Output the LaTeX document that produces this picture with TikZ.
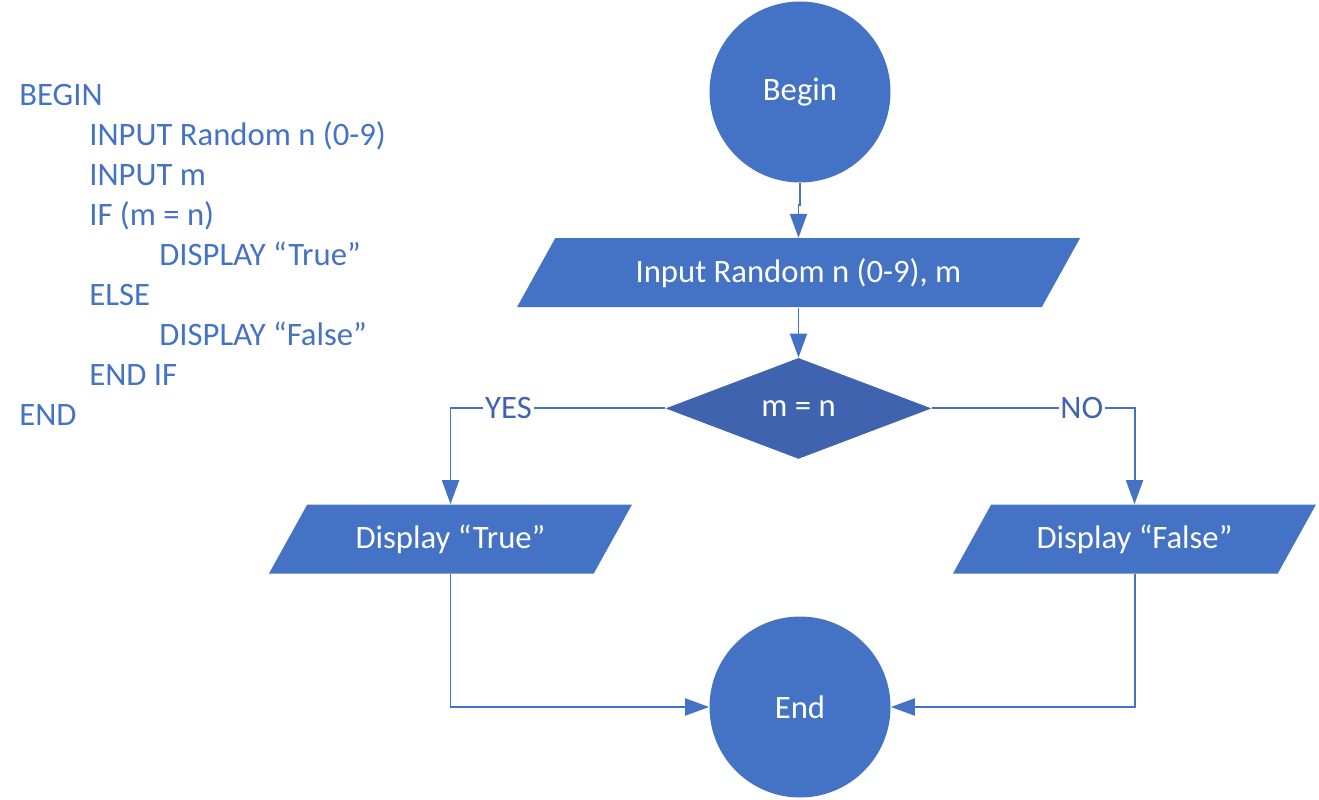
\documentclass[tikz,border=0pt]{standalone}
\usepackage{fontspec}
\setmainfont{Carlito}
\usepackage{xcolor}
\usepackage{tikz}
\usetikzlibrary{arrows.meta,positioning,shapes.geometric,calc}
\definecolor{flowblue}{RGB}{68,114,196}
\definecolor{flowdark}{RGB}{63,99,174}
\newcommand{\flowfont}{\fontsize{18.6pt}{22.7pt}\selectfont}
\tikzset{
  startstop/.style={
    circle,
    fill=flowblue,
    minimum size=3.62cm,
    inner sep=0pt,
    text=white,
    font=\flowfont
  },
  iobox/.style={
    trapezium,
    trapezium left angle=61,
    trapezium right angle=119,
    trapezium stretches body,
    fill=flowblue,
    text height=0.43cm,
    text depth=0.05cm,
    inner ysep=0.45cm,
    inner xsep=0pt,
    text=white,
    font=\flowfont
  },
  decision/.style={
    diamond,
    aspect=2.63,
    fill=flowdark,
    minimum width=5.32cm,
    minimum height=2.02cm,
    inner sep=0pt,
    text=white,
    font=\flowfont
  },
  codeline/.style={
    anchor=base west,
    inner sep=0pt,
    text=flowblue,
    font=\flowfont
  },
  answer/.style={
    fill=white,
    inner sep=1pt,
    text=flowdark,
    font=\flowfont
  },
  flow/.style={-{Triangle[length=0.48cm,width=0.34cm]}, line width=1.1pt, flowblue}
}

\begin{document}
\begin{tikzpicture}
\useasboundingbox (0,0) rectangle (26.38,-16);

% pseudocode
\foreach \ind/\txt [count=\i] in {0/BEGIN, 1/INPUT Random n (0-9), 1/INPUT m,
    1/IF (m = n), 2/DISPLAY “True”, 1/ELSE, 2/DISPLAY “False”, 1/END IF, 0/END}
  \node[codeline] (code\i) at ({0.38+1.4*\ind}, {-2.11-0.8*(\i-1)}) {\txt};

% flowchart
\node[startstop] (begin) at (16,-1.84) {Begin};
\node[iobox, minimum width=11.26cm, below=1.1cm of begin.south, anchor=north, xshift=-0.03cm] (input) {Input Random n (0-9), m};
\node[decision, below=1.0cm of input.south, anchor=north] (check) {m = n};
\node[iobox, minimum width=7.26cm] (ptrue) at (9.01,-10.78) {Display “True”};
\node[iobox, minimum width=7.26cm] (pfalse) at (22.69,-10.78) {Display “False”};
\node[startstop] (end) at (16,-14.14) {End};

\draw[flow] (begin.south) -- ++(0,-0.45) -| (input.north);
\draw[flow] (input.south) -- (check.north);
\draw[flow] (check.west) -| node[answer, pos=0.365] {YES} (ptrue.north);
\draw[flow] (check.east) -| node[answer, pos=0.37] {NO} (pfalse.north);
\draw[flow] (ptrue.south) |- (end.west);
\draw[flow] (pfalse.south) |- (end.east);
\end{tikzpicture}
\end{document}
